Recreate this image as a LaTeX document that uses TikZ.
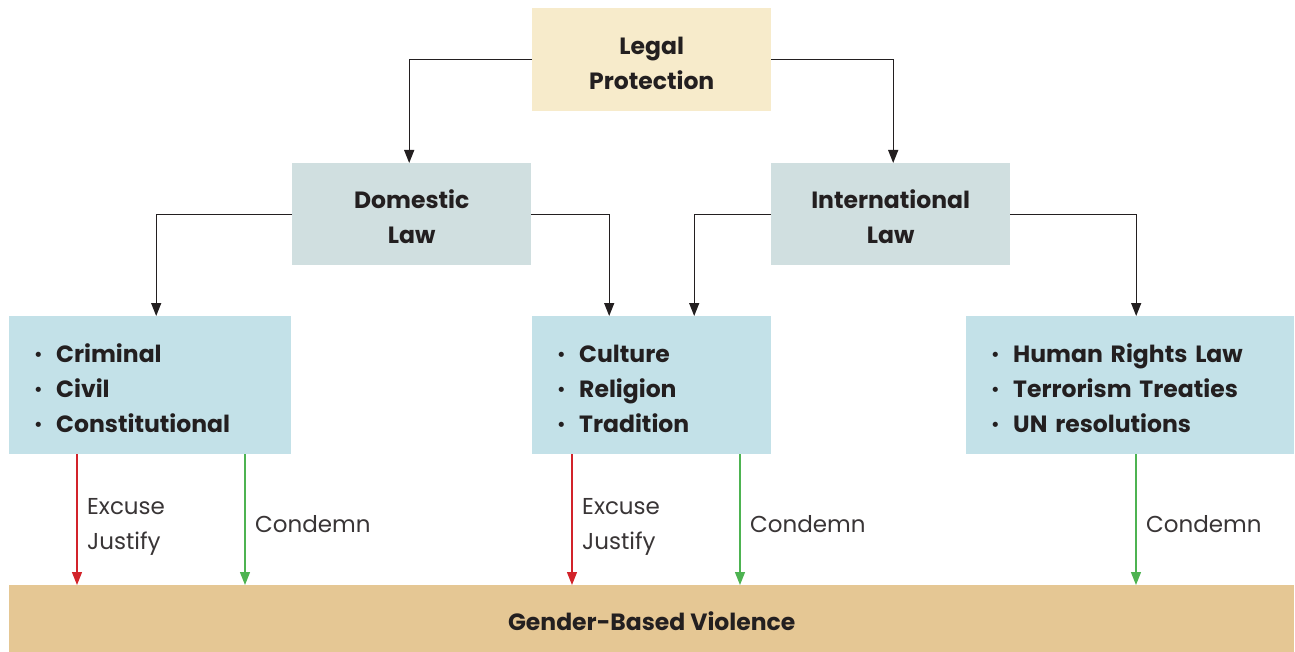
\documentclass[tikz,border=0pt]{standalone}
\usepackage{fontspec}
\setmainfont{Poppins}
\usetikzlibrary{arrows.meta}
\definecolor{txt}{HTML}{231F20}
\definecolor{legalc}{HTML}{F7EBCB}
\definecolor{lawc}{HTML}{D0DFE0}
\definecolor{listc}{HTML}{C3E1E8}
\definecolor{gbvc}{HTML}{E5C794}
\definecolor{redc}{HTML}{D2232A}
\definecolor{greenc}{HTML}{4DB351}
\newcommand{\bul}{\makebox[22pt][l]{\raisebox{1.5pt}{\fontsize{17}{17}\selectfont •}}}
\newcommand{\tp}{\rule{0pt}{24pt}}
\begin{document}
\begin{tikzpicture}[x=1pt,y=-1pt,
  box/.style={inner sep=0pt, anchor=north west, font=\bfseries\fontsize{23.5}{35}\selectfont, align=center, text=txt},
  listbox/.style={box, align=left, inner xsep=25pt, inner ysep=0pt},
  conn/.style={draw=txt, line width=1.3pt, -{Triangle[length=13pt,width=10pt]}},
  redarr/.style={draw=redc, line width=1.3pt, -{Triangle[length=13pt,width=10pt]}},
  greenarr/.style={draw=greenc, line width=1.3pt, -{Triangle[length=13pt,width=10pt]}},
  lbl/.style={anchor=west, font=\fontsize{23}{35}\selectfont, align=left, text=txt!90, inner sep=0pt}]
\useasboundingbox (0,0) rectangle (1295,652);
\fill[white] (0,0) rectangle (1295,652);

\node[box, fill=legalc, minimum width=239pt, minimum height=103pt] (legal) at (532,8) {\tp Legal\\Protection};
\node[box, fill=lawc, minimum width=239pt, minimum height=102pt] (dom) at (292,163) {\tp Domestic\\Law};
\node[box, fill=lawc, minimum width=239pt, minimum height=102pt] (intl) at (771,163) {\tp International\\Law};

\node[listbox, fill=listc, minimum width=282pt, minimum height=138pt, text width=232pt] (lst1) at (9,316) {\tp\bul Criminal\\\bul Civil\\\bul Constitutional};
\node[listbox, fill=listc, minimum width=239pt, minimum height=138pt, text width=189pt] (lst2) at (532,316) {\tp\bul Culture\\\bul Religion\\\bul Tradition};
\node[listbox, fill=listc, minimum width=328pt, minimum height=138pt, text width=278pt] (lst3) at (966,316) {\tp\bul Human Rights Law\\\bul Terrorism Treaties\\\bul UN resolutions};

\node[box, fill=gbvc, minimum width=1285pt, minimum height=67pt] (gbv) at (9,585) {\tp Gender-Based Violence};

\draw[conn] (legal.west) -| ([xshift=-2.5pt]dom.north);
\draw[conn] (legal.east) -| ([xshift=2.5pt]intl.north);
\draw[conn] (dom.west) -| ([xshift=6pt]lst1.north);
\draw[conn] (dom.east) -| ([xshift=-42.5pt]lst2.north);
\draw[conn] (intl.west) -| ([xshift=42.5pt]lst2.north);
\draw[conn] (intl.east) -| ([xshift=6pt]lst3.north);

\draw[redarr] ([xshift=68pt]lst1.south west) -- ([xshift=68pt]lst1.south west |- gbv.north);
\draw[greenarr] ([xshift=236pt]lst1.south west) -- ([xshift=236pt]lst1.south west |- gbv.north);
\draw[redarr] ([xshift=40pt]lst2.south west) -- ([xshift=40pt]lst2.south west |- gbv.north);
\draw[greenarr] ([xshift=208pt]lst2.south west) -- ([xshift=208pt]lst2.south west |- gbv.north);
\draw[greenarr] ([xshift=170pt]lst3.south west) -- ([xshift=170pt]lst3.south west |- gbv.north);

\node[lbl] (l1) at (87,527) {Excuse\\Justify};
\node[lbl] (l2) at (255,524) {Condemn};
\node[lbl] (l3) at (582,527) {Excuse\\Justify};
\node[lbl] (l4) at (750,524) {Condemn};
\node[lbl] (l5) at (1146,524) {Condemn};
\end{tikzpicture}
\end{document}
